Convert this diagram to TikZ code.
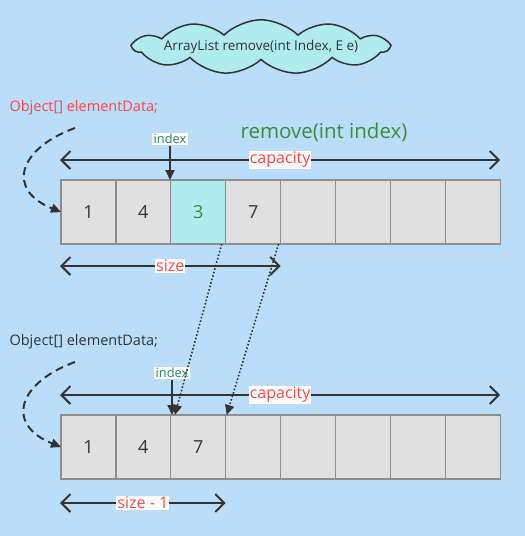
\documentclass[tikz,border=0pt]{standalone}
\usepackage{fontspec}
\setmainfont{Open Sans}
\usepackage{xcolor}
\usepackage{tikz}
\usetikzlibrary{positioning,arrows.meta,shapes.symbols,calc}
\definecolor{cBg}{HTML}{BADDF9}
\definecolor{cCell}{HTML}{E0E0E0}
\definecolor{cCellB}{HTML}{8E8E8E}
\definecolor{cHi}{HTML}{B0EBF0}
\definecolor{cRed}{HTML}{FF4646}
\definecolor{cGrn}{HTML}{3A8E3A}
\definecolor{cIdx}{HTML}{2E8068}
\definecolor{cInk}{HTML}{333333}
\tikzset{
  cell/.style={draw=cCellB,fill=cCell,line width=1.3pt,outer sep=0pt,inner sep=0pt,
               minimum width=54.9pt,minimum height=64pt,text=cInk,font=\fontsize{18}{20}\selectfont},
  hicell/.style={cell,fill=cHi,text=cGrn},
  lab/.style={fill=white,text=cRed,inner sep=1pt,font=\fontsize{16}{18}\selectfont},
  idx/.style={fill=white,text=cIdx,inner sep=1.5pt,font=\fontsize{12.8}{14}\selectfont},
  dim/.style={{Straight Barb[length=9pt,width=18pt]}-{Straight Barb[length=9pt,width=18pt]},
              line width=2pt,cInk},
  ptr/.style={-{Triangle[length=10pt,width=9pt]},line width=2pt,cInk},
  mv/.style={-{Triangle[length=10pt,width=9pt]},line width=1.6pt,dotted,cInk},
  ref/.style={-{Triangle[length=10pt,width=9pt]},line width=2pt,cInk,dash pattern=on 8pt off 5pt},
  decl/.style={anchor=west,font=\fontsize{14.5}{16}\selectfont},
}
\begin{document}
\begin{tikzpicture}[x=1pt,y=-1pt]
  \path[use as bounding box,fill=cBg] (0,0) rectangle (525,536);
  % --- title ---
  \node[cloud,cloud puffs=11,cloud puff arc=90,aspect=9,draw=cInk,fill=cHi,line width=1.5pt,
        inner xsep=-11pt,inner ysep=0pt,minimum width=255pt,minimum height=45pt,text=cInk,
        font=\fontsize{13.5}{15}\selectfont] (title) at (261,47) {ArrayList remove(int Index, E e)};
  % --- before remove ---
  \node[decl,text=cRed] (od1) at (6,108) {Object[] elementData;};
  \node[text=cGrn,font=\fontsize{20.5}{22}\selectfont] (op) at (324,132) {remove(int index)};
  \foreach \i/\v/\s in {1/1/cell,2/4/cell,3/3/hicell,4/7/cell,5//cell,6//cell,7//cell,8//cell}
    \node[\s] (t\i) at ({61+54.9*(\i-0.5)},212) {\v};
  \draw[dim] ([xshift=-1pt,yshift=20pt]t1.north west) -- ([yshift=20pt]t8.north east)
    node[midway,lab] {capacity};
  \node[idx] (i1) at (170,139) {index};
  \draw[ptr] (i1.south) -- (i1.south |- t3.north);
  \draw[dim] ([xshift=-1pt,yshift=-22pt]t1.south west) -- ([yshift=-22pt]t5.south west)
    node[midway,lab] {size};
  \coordinate (d1) at (75,128);
  \draw[ref] (d1) to[out=200,in=158,looseness=1.8] (t1.west);
  % --- after remove ---
  \node[decl,text=cInk] (od2) at (6,342) {Object[] elementData;};
  \foreach \i/\v in {1/1,2/4,3/7,4/,5/,6/,7/,8/}
    \node[cell] (b\i) at ({61+54.9*(\i-0.5)},447) {\v};
  \draw[dim] ([xshift=-1pt,yshift=20pt]b1.north west) -- ([yshift=20pt]b8.north east)
    node[midway,lab] {capacity};
  \node[idx] (i2) at (172,373) {index};
  \draw[ptr] (i2.south) -- (i2.south |- b3.north);
  \draw[dim] ([xshift=-1pt,yshift=-24pt]b1.south west) -- ([yshift=-24pt]b4.south west)
    node[midway,lab] {size - 1};
  \coordinate (d2) at (75,362);
  \draw[ref] (d2) to[out=200,in=158,looseness=1.8] (b1.west);
  % --- shifted elements ---
  \draw[mv] ([xshift=-4pt]t3.south east) -- ([xshift=4pt]b3.north west);
  \draw[mv] ([xshift=-2pt]t4.south east) -- ([xshift=1pt]b4.north west);
\end{tikzpicture}
\end{document}
